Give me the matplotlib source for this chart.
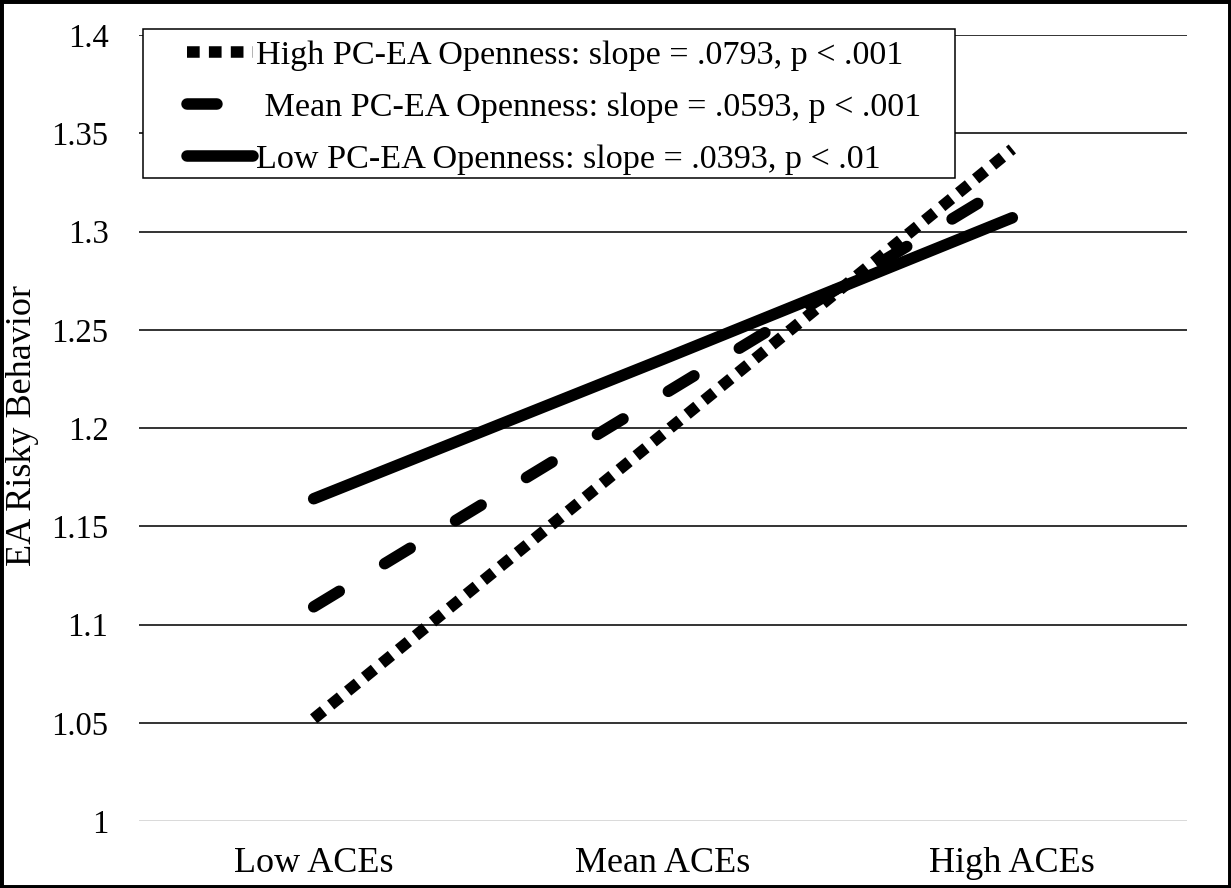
import matplotlib
matplotlib.use("Agg")
import matplotlib.pyplot as plt
from matplotlib.patches import Rectangle

categories = ["Low ACEs", "Mean ACEs", "High ACEs"]
high_open = [1.052, 1.197, 1.342]
mean_open = [1.109, 1.217, 1.325]
low_open = [1.164, 1.235, 1.307]
labels = ["High PC-EA Openness: slope = .0793, p < .001",
          " Mean PC-EA Openness: slope = .0593, p < .001",
          "Low PC-EA Openness: slope = .0393, p < .01"]
yticks = [1, 1.05, 1.1, 1.15, 1.2, 1.25, 1.3, 1.35, 1.4]
yticklabels = ["1", "1.05", "1.1", "1.15", "1.2", "1.25", "1.3", "1.35", "1.4"]

plt.rcParams['font.family'] = ['Liberation Serif', 'DejaVu Serif']

W, H = 1231, 888
fig = plt.figure(figsize=(W / 100, H / 100), dpi=100)
ax = fig.add_axes([139 / W, 1 - 821 / H, (1187 - 139) / W, (821 - 35) / H])

x = list(range(len(categories)))
lw = 8.3
ax.plot(x, high_open, color='black', lw=lw, linestyle=(0, (1.1, 0.8)),
        dash_capstyle='butt', solid_capstyle='butt', label=labels[0], zorder=3)
ax.plot(x, mean_open, color='black', lw=lw, linestyle=(0, (2.6, 4.6)),
        dash_capstyle='round', solid_capstyle='round', label=labels[1], zorder=3)
ax.plot(x, low_open, color='black', lw=lw, linestyle='-',
        solid_capstyle='round', label=labels[2], zorder=3)

ax.set_xlim(-0.5, 2.5)
ax.set_ylim(1, 1.4)
ax.set_xticks(x)
ax.set_xticklabels(categories, fontsize=26)
ax.set_yticks(yticks)
ax.set_yticklabels(yticklabels, fontsize=23.5)
ax.tick_params(axis='both', length=0)
ax.tick_params(axis='y', pad=22)
ax.tick_params(axis='x', pad=19)
for s in ax.spines.values():
    s.set_visible(False)
ax.grid(axis='y', color='#333333', lw=1.4)
ax.set_axisbelow(True)
ax.get_ygridlines()[0].set_color('#d9d9d9')

fig.text(23 / W, 1 - 426 / H, "EA Risky Behavior", rotation=90,
         ha='center', va='center', fontsize=26)

# legend frame drawn separately (Excel-style wide left margin)
frame = Rectangle((143 / W, 1 - 178 / H), (955 - 143) / W, (178 - 29) / H,
                  transform=fig.transFigure, fill=True, fc='white',
                  ec='black', lw=1.1, zorder=4, clip_on=False)
ax.add_artist(frame)
leg = ax.legend(loc='upper left', bbox_to_anchor=(187 / W, 1 - 40 / H),
                bbox_transform=fig.transFigure, fontsize=24.6, frameon=False,
                handlelength=1.93, handletextpad=0.1, labelspacing=0.62,
                borderpad=0, borderaxespad=0)
leg.set_zorder(5)

fig.patches.append(Rectangle((0, 0), 1, 1, transform=fig.transFigure,
                             fill=False, ec='black', lw=5))

fig.savefig("out.png", dpi=100)
